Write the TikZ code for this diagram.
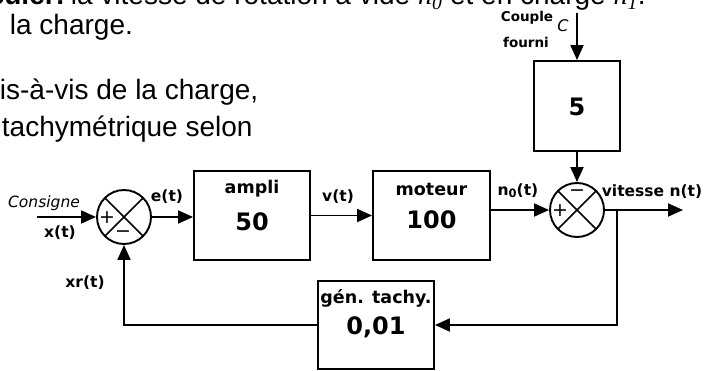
\documentclass[tikz,border=0pt]{standalone}
\usepackage{fontspec}
\setmainfont{Liberation Sans}
\newfontfamily\dvs{DejaVu Sans}
\newfontfamily\tms{Liberation Serif}
\usetikzlibrary{arrows.meta,calc}
\begin{document}
\begin{tikzpicture}[x=1pt,y=-1pt,line width=1.9pt,
  >={Triangle[length=15pt,width=13pt]},
  blk/.style={draw,rectangle,inner sep=0pt,minimum width=116pt,minimum height=89pt},
  sumc/.style={draw,circle,inner sep=0pt,minimum size=54pt},
  lab/.style={inner sep=0pt,font=\dvs\bfseries\fontsize{15.5}{16}\selectfont},
  blab/.style={inner sep=0pt,font=\dvs\bfseries\fontsize{17.5}{18}\selectfont},
  num/.style={inner sep=0pt,font=\dvs\bfseries\fontsize{24}{26}\selectfont},
  sgn/.style={inner sep=0pt,font=\dvs\fontsize{19}{20}\selectfont},
  para/.style={inner sep=0pt,anchor=base west,font=\fontsize{28}{30}\selectfont}]
\useasboundingbox (0,0) rectangle (704,371);
% surrounding text (cropped page)
\node[para,anchor=base east,font=\bfseries\fontsize{28}{30}\selectfont] (p0) at (66,5) {Calculer:};
\node[para] (p1) at (70,5) {la vitesse de rotation à vide {\tms\itshape n\textsubscript{0}} et en charge {\tms\itshape n\textsubscript{1}}.};
\node[para] (p2) at (9,35) {la charge.};
\node[para] (p3) at (-1,100) {is-à-vis de la charge,};
\node[para] (p4) at (1,137) {tachymétrique selon};
% blocks
\node[sumc] (s1) at (124,217) {};
\node[blk] (amp) at (252,215.5) {};
\node[blk,minimum width=117pt] (mot) at (431.5,215.5) {};
\node[sumc] (s2) at (577,210) {};
\node[blk,minimum width=86pt,minimum height=90pt] (k5) at (577,106) {};
\node[blk,minimum height=88pt] (tach) at (376,325) {};
% block texts
\node[blab] (tamp) at (252,189) {ampli};
\node[num] (namp) at (252,222) {50};
\node[blab] (tmot) at (431.5,189) {moteur};
\node[num] (nmot) at (431.5,220) {100};
\node[blab] (ttach) at (376,298) {gén. tachy.};
\node[num] (ntach) at (376,327) {0,01};
\node[num] (nk5) at (577,107) {5};
% sum circle crosses and signs
\draw[line width=1.6pt] (s1.center) ++(45:27) -- ++(225:54);
\draw[line width=1.6pt] (s1.center) ++(135:27) -- ++(315:54);
\draw[line width=1.6pt] (s2.center) ++(45:27) -- ++(225:54);
\draw[line width=1.6pt] (s2.center) ++(135:27) -- ++(315:54);
\node[sgn] (s1p) at ($(s1.center)+(-17,1)$) {+};
\node[sgn] (s1m) at ($(s1.center)+(-1,17)$) {−};
\node[sgn] (s2p) at ($(s2.center)+(-17,1)$) {+};
\node[sgn] (s2m) at ($(s2.center)+(0,-17)$) {−};
% coordinates
\coordinate (in) at (37,217);
\coordinate (out) at (683,210);
\coordinate (top) at (577,13);
\coordinate (br) at (617,210);
% connectors
\draw[->] (in) -- (s1.west);
\draw[->] (s1.east) -- (s1.east -| amp.west);
\draw[->] (amp.east) -- (mot.west);
\draw[->] (mot.east |- s2.west) -- (s2.west);
\draw[->] (s2.east) -- (out);
\draw[->] (top) -- (k5.north);
\draw[->] (k5.south) -- (s2.north);
\draw[->] (br) -- (br |- tach.east) -- (tach.east);
\draw[->] (tach.west) -| (s1.south);
% signal labels
\node[lab,font=\dvs\itshape\fontsize{15.5}{16}\selectfont] (lcons) at (44,203) {Consigne};
\node[lab] (lx) at (60,233) {x(t)};
\node[lab] (le) at (167,197) {e(t)};
\node[lab] (lv) at (338,197) {v(t)};
\node[lab] (ln0) at (518,191) {n\raisebox{-2pt}{\fontsize{11.5}{12}\selectfont 0}(t)};
\node[lab] (ln) at (652,192) {vitesse n(t)};
\node[lab] (lxr) at (85,283) {xr(t)};
\node[lab,font=\dvs\bfseries\fontsize{13.5}{14}\selectfont] (lcp) at (527,18) {Couple};
\node[lab,font=\dvs\bfseries\fontsize{13.5}{14}\selectfont] (lfo) at (526,42) {fourni};
\node[lab,font=\dvs\itshape\fontsize{16}{17}\selectfont] (lc) at (563,26) {C};
\end{tikzpicture}
\end{document}
